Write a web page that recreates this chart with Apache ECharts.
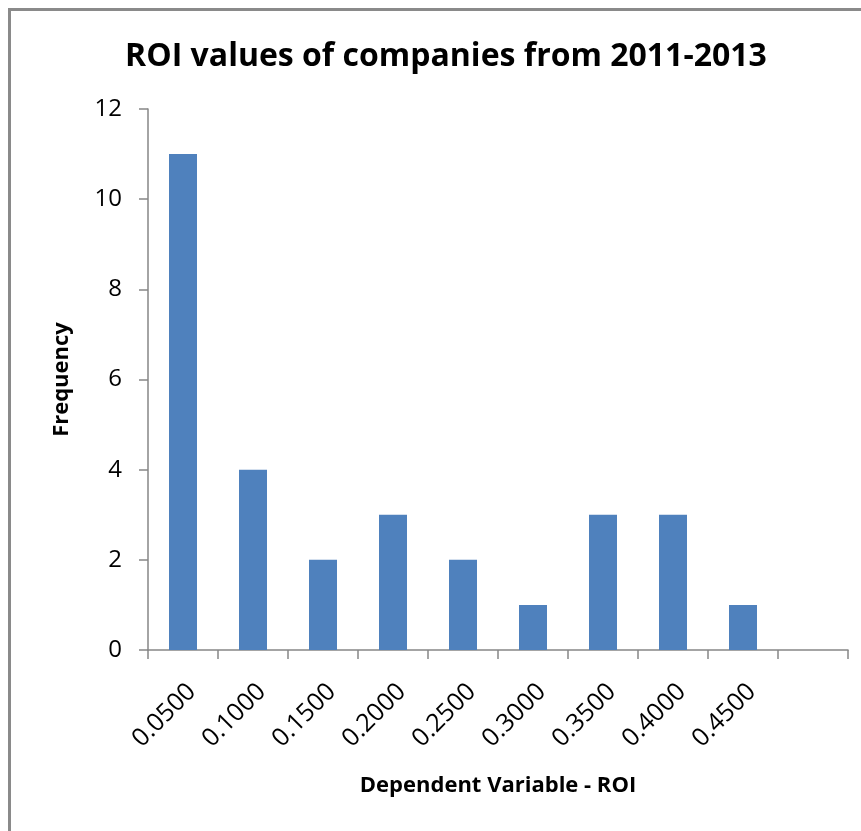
<!DOCTYPE html>
<html>
<head>
<meta charset="utf-8">
<script src="https://cdn.jsdelivr.net/npm/echarts@6/dist/echarts.min.js"></script>
<style>
  html, body { margin: 0; padding: 0; background: #fff; }
  #chart { width: 861px; height: 831px; }
</style>
</head>
<body>
<div id="chart"></div>
<script>
// ROI bins (upper bound of each bin); the last bin is the open "more" bin
const categories = ['0.0500', '0.1000', '0.1500', '0.2000', '0.2500', '0.3000', '0.3500', '0.4000', '0.4500', ''];
// number of companies falling in each bin
const frequency = [11, 4, 2, 3, 2, 1, 3, 3, 1, 0];
const yTicks = { min: 0, max: 12, step: 2 };

const FONT = '"Open Sans", "Noto Sans", sans-serif';
const AXIS_GREY = '#868686';
const chart = echarts.init(document.getElementById('chart'), null, { renderer: 'canvas' });

chart.setOption({
  backgroundColor: '#ffffff',
  animation: false,
  title: {
    text: 'ROI values of companies from 2011-2013',
    left: 441,
    textAlign: 'center',
    top: 36,
    textStyle: { fontFamily: FONT, fontSize: 32, fontWeight: 'bold', color: '#000' }
  },
  graphic: [{
    type: 'rect',
    shape: { x: 9.5, y: 9.5, width: 900, height: 900 },
    style: { fill: 'none', stroke: '#8a8a8a', lineWidth: 3 },
    silent: true
  }],
  grid: { left: 148, right: 13, top: 109, bottom: 181, containLabel: false },
  xAxis: {
    type: 'category',
    data: categories,
    boundaryGap: true,
    name: 'Dependent Variable - ROI',
    nameLocation: 'middle',
    nameGap: 125,
    nameTextStyle: { fontFamily: FONT, fontSize: 22, fontWeight: 'bold', color: '#000' },
    axisLine: { lineStyle: { color: AXIS_GREY, width: 1.5 } },
    axisTick: { show: true, alignWithLabel: false, interval: 0, length: 9, lineStyle: { color: AXIS_GREY, width: 1.5 } },
    axisLabel: {
      interval: 0, rotate: 45, margin: 29,
      align: 'right', verticalAlign: 'top',
      fontFamily: FONT, fontSize: 25, color: '#000'
    },
    splitLine: { show: false }
  },
  yAxis: {
    type: 'value',
    min: yTicks.min,
    max: yTicks.max,
    interval: yTicks.step,
    name: 'Frequency',
    nameLocation: 'middle',
    nameGap: 75,
    nameRotate: 90,
    nameTextStyle: { fontFamily: FONT, fontSize: 22, fontWeight: 'bold', color: '#000' },
    axisLine: { show: true, lineStyle: { color: AXIS_GREY, width: 1.5 } },
    axisTick: { show: true, length: 9, lineStyle: { color: AXIS_GREY, width: 1.5 } },
    axisLabel: { margin: 26, fontFamily: FONT, fontSize: 24, color: '#000' },
    splitLine: { show: false }
  },
  series: [{
    type: 'bar',
    data: frequency,
    barWidth: 28,
    itemStyle: { color: '#4f81bd' }
  }]
});
</script>
</body>
</html>
